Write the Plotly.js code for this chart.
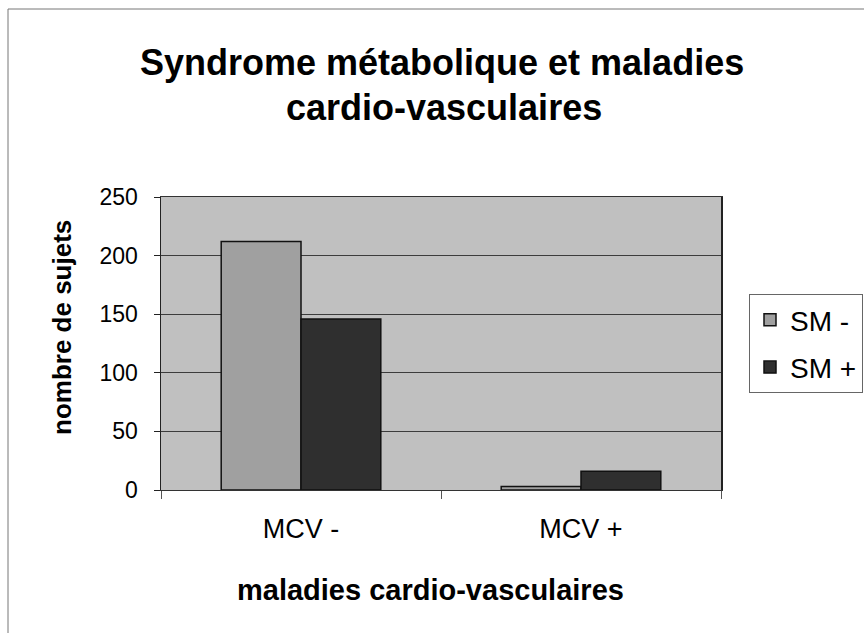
<!DOCTYPE html>
<html>
<head>
<meta charset="utf-8">
<script src="https://cdn.plot.ly/plotly-3.0.1.min.js"></script>
<style>html,body{margin:0;padding:0;background:#fff;}#chart{width:864px;height:633px;}</style>
</head>
<body>
<div id="chart"></div>
<script>
const categories = ["MCV -", "MCV +"];
const seriesNames = ["SM -", "SM +"];
const smMinus = [212, 3];
const smPlus = [146, 16];
const yTicks = [0, 50, 100, 150, 200, 250];

const FONT = "Arial, 'Liberation Sans', sans-serif";
const L = 161, R = 721, T = 197, B = 490;
const W = R - L, H = B - T;
const px = x => (x - L) / W;
const py = y => (B - y) / H;

const traces = [
  {type: "bar", name: seriesNames[0], x: categories, y: smMinus, legendgroup: "a",
   marker: {color: "#a0a0a0", line: {color: "#111", width: 1.5}}},
  {type: "bar", name: seriesNames[1], x: categories, y: smPlus, legendgroup: "b",
   marker: {color: "#2f2f2f", line: {color: "#111", width: 1.5}}}
];

const layout = {
  width: 864, height: 633,
  margin: {l: L, r: 864 - R, t: T, b: 633 - B, autoexpand: false},
  paper_bgcolor: "#ffffff",
  plot_bgcolor: "#c0c0c0",
  barmode: "group",
  bargap: 0.43,
  bargroupgap: 0,
  font: {family: FONT, color: "#000", size: 23},
  showlegend: true,
  legend: {x: px(749), y: py(294), xanchor: "left", yanchor: "top",
           bgcolor: "#fff", bordercolor: "#666", borderwidth: 1,
           font: {size: 28, family: FONT}, traceorder: "grouped", tracegroupgap: 8},
  xaxis: {type: "category", showgrid: false, showline: true, linecolor: "#333", linewidth: 1, mirror: true,
          ticks: "outside", tickson: "boundaries", ticklen: 8, tickcolor: "#555",
          tickfont: {size: 27, family: FONT}, ticklabelstandoff: 15, fixedrange: true, automargin: false},
  yaxis: {range: [0, 250], tickvals: yTicks, ticktext: yTicks.map(String),
          showgrid: true, gridcolor: "#3c3c3c", gridwidth: 1, zeroline: false,
          showline: true, linecolor: "#222", linewidth: 1.5, mirror: true,
          ticks: "outside", ticklen: 6, tickcolor: "#222",
          tickfont: {size: 23, family: FONT}, ticklabelstandoff: 11, fixedrange: true, automargin: false},
  annotations: [
    {text: "<b>Syndrome métabolique et maladies</b>", xref: "paper", yref: "paper",
     x: px(442), y: py(62), xanchor: "center", yanchor: "middle", showarrow: false,
     font: {size: 36, family: FONT}},
    {text: "<b>cardio-vasculaires</b>", xref: "paper", yref: "paper",
     x: px(444), y: py(108), xanchor: "center", yanchor: "middle", showarrow: false,
     font: {size: 36, family: FONT}},
    {text: "<b>nombre de sujets</b>", xref: "paper", yref: "paper", textangle: -90,
     x: px(62), y: py(328), xanchor: "center", yanchor: "middle", showarrow: false,
     font: {size: 26, family: FONT}},
    {text: "<b>maladies cardio-vasculaires</b>", xref: "paper", yref: "paper",
     x: px(430), y: py(590), xanchor: "center", yanchor: "middle", showarrow: false,
     font: {size: 29, family: FONT}}
  ],
  shapes: [
    {type: "rect", xref: "paper", yref: "paper", x0: px(8), x1: px(900), y0: py(700), y1: py(9),
     line: {color: "#777", width: 1}, fillcolor: "rgba(0,0,0,0)", layer: "below"}
  ]
};

Plotly.newPlot("chart", traces, layout, {displayModeBar: false, staticPlot: true});
</script>
</body>
</html>
